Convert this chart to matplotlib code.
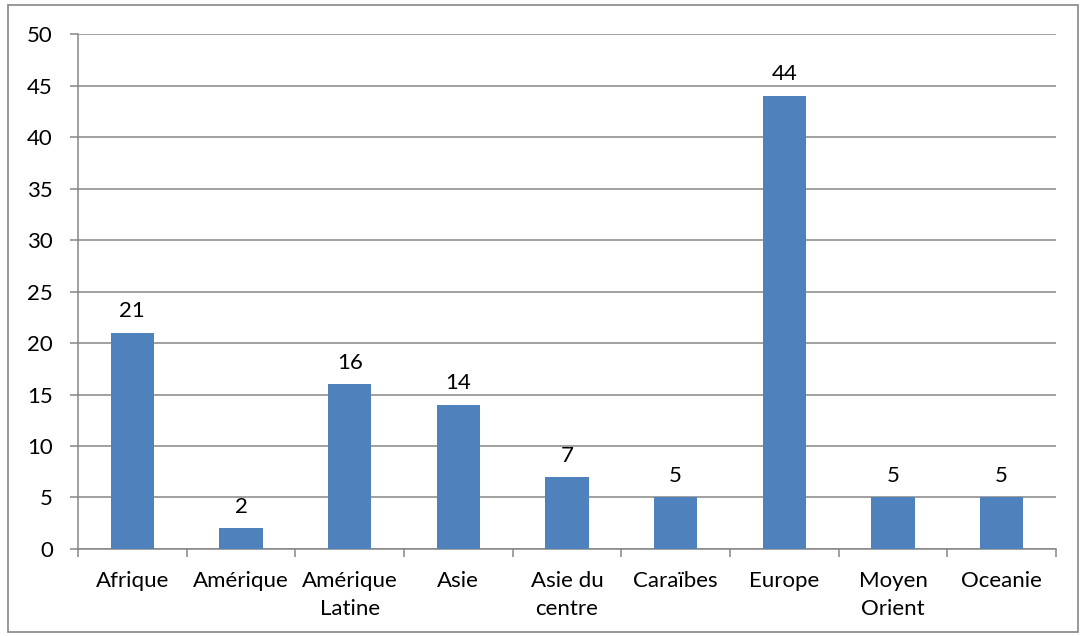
import numpy as np
import matplotlib.pyplot as plt
from matplotlib.patches import Rectangle

plt.rcParams['font.family'] = ['Lato', 'DejaVu Sans']

# regions and number of entries
regions = ['Afrique', 'Amérique', 'Amérique\nLatine', 'Asie', 'Asie du\ncentre',
           'Caraïbes', 'Europe', 'Moyen\nOrient', 'Oceanie']
counts = [21, 2, 16, 14, 7, 5, 44, 5, 5]

grey = '#868686'
blue = '#4F81BD'

fig = plt.figure(figsize=(10.8, 6.36), dpi=100)
ax = fig.add_axes([0.0722, 0.1368, 0.9056, 0.8097])

x = np.arange(len(regions))
bars = ax.bar(x, counts, width=0.4, color=blue, zorder=3)
for xi, v in zip(x, counts):
    ax.text(xi, v + 1.1, str(v), ha='center', va='bottom', fontsize=16)

ax.set_xlim(-0.5, len(regions) - 0.5)
ax.set_ylim(0, 50)
ax.set_yticks(range(0, 51, 5))
ax.yaxis.grid(True, color=grey, linewidth=1.1, zorder=0)

ax.set_xticks(x)
ax.set_xticklabels(regions, fontsize=16, linespacing=1.5)
ax.set_xticks(np.arange(-0.5, len(regions), 1), minor=True)
ax.tick_params(axis='x', which='major', length=0, pad=16)
ax.tick_params(axis='x', which='minor', length=6, width=1.1, color=grey)
ax.tick_params(axis='y', length=6, width=1.1, color=grey, labelsize=16, pad=12)

for side in ['top', 'right']:
    ax.spines[side].set_visible(False)
for side in ['left', 'bottom']:
    ax.spines[side].set_color(grey)
    ax.spines[side].set_linewidth(1.1)

# outer chart frame
fig.patches.append(Rectangle((8 / 1080, 4 / 636), 1070 / 1080, 627 / 636,
                             transform=fig.transFigure, fill=False,
                             edgecolor=grey, linewidth=1.2))

fig.savefig('out.png', dpi=100)
